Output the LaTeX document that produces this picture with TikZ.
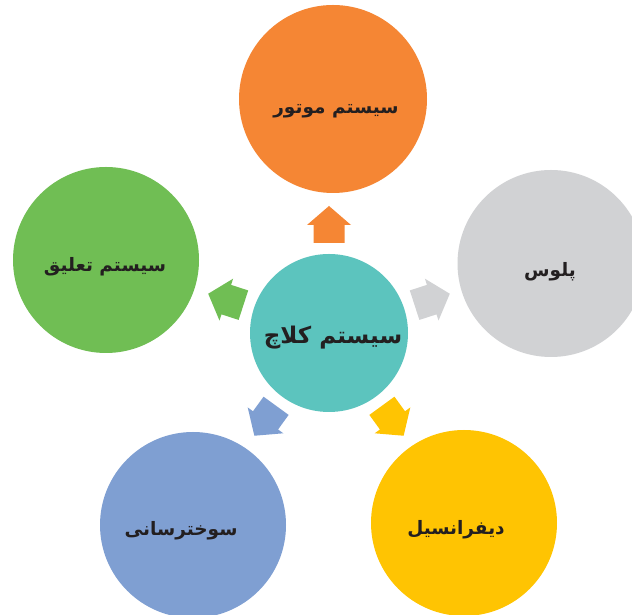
\documentclass[tikz,border=0pt]{standalone}
\usepackage{fontspec}
\newfontfamily\arabicfont[Script=Arabic]{DejaVu Sans}
\TeXXeTstate=1
\definecolor{corange}{HTML}{F58634}
\definecolor{cgreen}{HTML}{70BE54}
\definecolor{cgray}{HTML}{D1D2D4}
\definecolor{cblue}{HTML}{7F9FD2}
\definecolor{cyellow}{HTML}{FFC402}
\definecolor{cteal}{HTML}{5CC4BE}
\definecolor{textdark}{HTML}{231F20}
\begin{document}
\begin{tikzpicture}[x=1pt,y=1pt,
  bubble/.style={circle, inner sep=0pt, outer sep=0pt, minimum size=#1},
  lbl/.style={inner sep=0pt, text=textdark, font=\arabicfont\bfseries\fontsize{18.5}{22}\selectfont},
  hublbl/.style={lbl, font=\arabicfont\bfseries\fontsize{23}{26}\selectfont}]
\useasboundingbox (0,0) rectangle (632,615);
\clip (0,0) rectangle (632,615);
\fill[white] (0,0) rectangle (632,615);
\node[bubble=158pt, fill=cteal, label={[hublbl, xshift=4pt, yshift=-5pt]center:{\beginR سیستم کلاچ\endR}}] (hub) at (329,282) {};
\node[bubble=188pt, fill=corange, label={[lbl, xshift=3pt, yshift=-12pt]center:{\beginR سیستم موتور\endR}}] (motor) at (333,516) {};
\node[bubble=186pt, fill=cgreen, label={[lbl, xshift=-1pt, yshift=-6.5pt]center:{\beginR سیستم تعلیق\endR}}] (taliq) at (106,355) {};
\node[bubble=187pt, fill=cgray, label={[lbl, xshift=-1pt, yshift=-8pt]center:{\beginR پلوس\endR}}] (plus) at (551,351.5) {};
\node[bubble=186pt, fill=cblue, label={[lbl, xshift=-12pt, yshift=-6pt]center:{\beginR سوخترسانی\endR}}] (sookht) at (193,90) {};
\node[bubble=186pt, fill=cyellow, label={[lbl, xshift=-8pt, yshift=-7pt]center:{\beginR دیفرانسیل\endR}}] (dif) at (464,92) {};
\foreach \ang/\col in {90/corange,162/cgreen,18/cgray,234/cblue,306/cyellow}{
  \begin{scope}[shift={(hub.center)}, rotate=\ang]
    \fill[\col] (90,-15.5) -- (108,-15.5) -- (108,-22) -- (127,0) -- (108,22) -- (108,15.5) -- (90,15.5) -- cycle;
  \end{scope}
}
\end{tikzpicture}
\end{document}
